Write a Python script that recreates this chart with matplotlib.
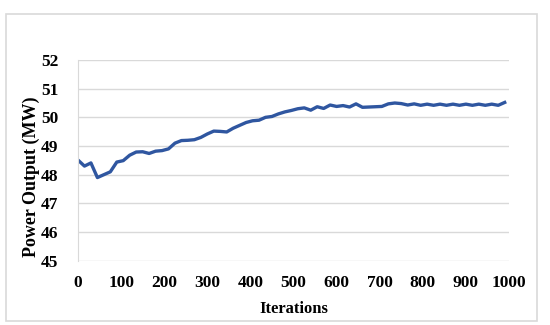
import matplotlib
matplotlib.use("Agg")
import matplotlib.pyplot as plt
from matplotlib.patches import Rectangle

iterations = list(range(0, 1000, 15))
power = [48.51, 48.30, 48.41, 47.90, 48.00, 48.10, 48.44, 48.49, 48.68, 48.79,
         48.80, 48.74, 48.82, 48.84, 48.90, 49.10, 49.19, 49.20, 49.22, 49.30,
         49.42, 49.52, 49.51, 49.49, 49.62, 49.72, 49.82, 49.88, 49.90, 50.00,
         50.03, 50.12, 50.19, 50.24, 50.30, 50.33, 50.25, 50.37, 50.31, 50.43,
         50.38, 50.41, 50.36, 50.47, 50.35, 50.36, 50.37, 50.38, 50.47, 50.50,
         50.48, 50.43, 50.47, 50.42, 50.46, 50.42, 50.46, 50.42, 50.46, 50.42,
         50.46, 50.42, 50.46, 50.42, 50.46, 50.42, 50.52]
x_ticks = [0, 100, 200, 300, 400, 500, 600, 700, 800, 900, 1000]
y_ticks = [45, 46, 47, 48, 49, 50, 51, 52]

plt.rcParams["font.family"] = ["Liberation Serif", "DejaVu Serif"]
plt.rcParams["font.weight"] = "bold"

fig = plt.figure(figsize=(5.5, 3.25), dpi=100)
ax = fig.add_axes([78 / 550, 1 - 260.7 / 325, 431 / 550, 200.7 / 325])

# outer chart frame
fig.patches.append(Rectangle((6 / 550, 1 - 321 / 325), 531 / 550, 307 / 325,
                             transform=fig.transFigure, fill=False,
                             edgecolor="#D9D9D9", linewidth=1.2))

ax.plot(iterations, power, color="#2F56A0", linewidth=2.4)

ax.set_xlim(0, 1000)
ax.set_ylim(45, 52)
ax.set_xticks(x_ticks)
ax.set_yticks(y_ticks)
ax.grid(axis="y", color="#D9D9D9", linewidth=1.0)
ax.set_axisbelow(True)
for side in ["top", "right", "bottom"]:
    ax.spines[side].set_visible(False)
ax.spines["left"].set_color("#D9D9D9")
ax.tick_params(length=0, labelsize=12.5)
ax.tick_params(axis="x", pad=10)
ax.tick_params(axis="y", pad=14)
for lbl in ax.get_xticklabels() + ax.get_yticklabels():
    lbl.set_fontweight("bold")

ax.set_xlabel("Iterations", fontsize=12, fontweight="bold")
ax.xaxis.set_label_coords(0.5, -40 / 200.7, transform=ax.transAxes)
ax.set_ylabel("Power Output (MW)", fontsize=13, fontweight="bold")
ax.yaxis.set_label_coords(-38 / 431, 0.42, transform=ax.transAxes)

fig.savefig("out.png", dpi=100)
